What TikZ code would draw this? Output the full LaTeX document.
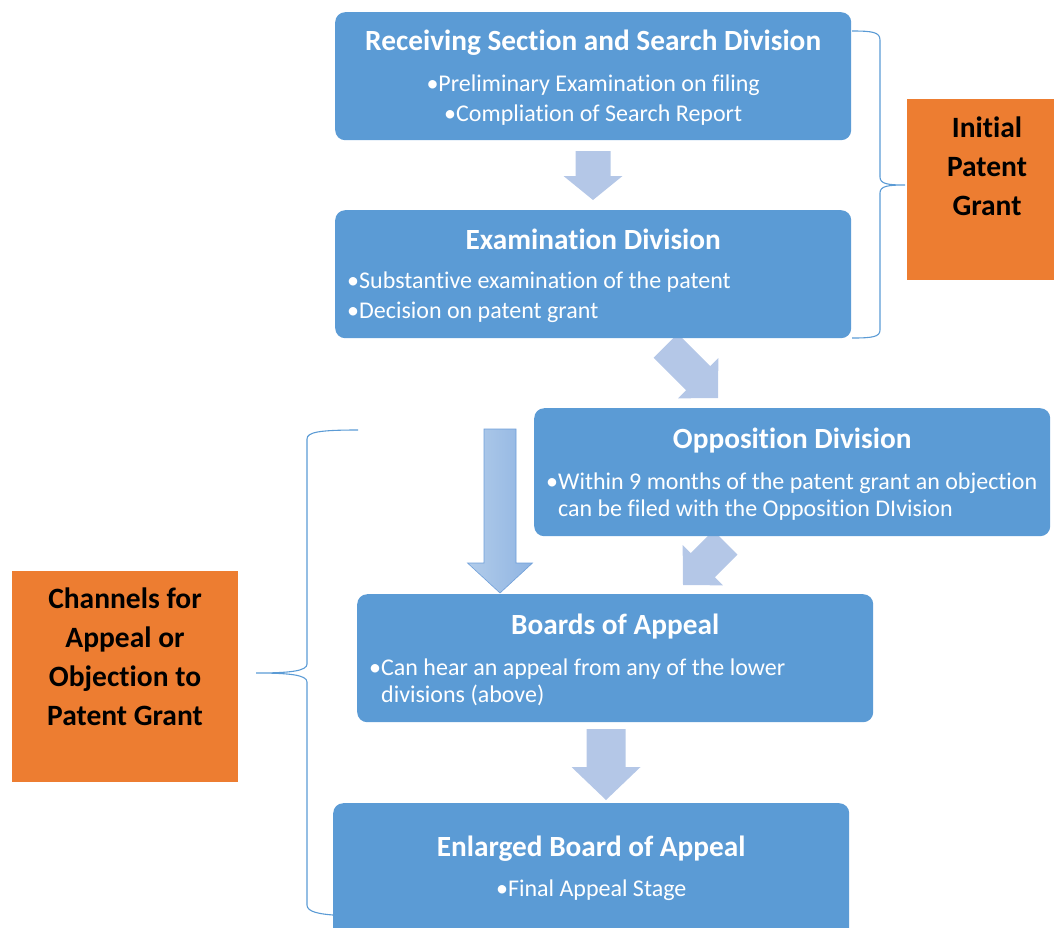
\documentclass[tikz,border=0pt]{standalone}
\usepackage{fontspec}
\setmainfont{Carlito}[Ligatures=NoCommon]
\usetikzlibrary{positioning}

\definecolor{boxblue}{HTML}{5B9BD5}
\definecolor{grantorange}{HTML}{ED7D31}
\definecolor{arrowblue}{HTML}{B4C7E7}
\definecolor{shaftlight}{HTML}{B2CCEA}
\definecolor{shaftdark}{HTML}{8FB4E2}
\definecolor{shaftline}{HTML}{6E9FD9}

\tikzset{
  stage/.style={fill=boxblue, rounded corners=10pt, minimum width=516pt,
    minimum height=128pt, inner sep=0pt},
  stagetitle/.style={text=white, inner sep=0pt,
    font=\bfseries\fontsize{29.3}{34}\selectfont},
  stagetext/.style={text=white, inner sep=0pt,
    font=\fontsize{24}{30}\selectfont},
  grantbox/.style={fill=grantorange, inner sep=0pt},
  granttext/.style={text=black, inner sep=0pt, align=center,
    font=\bfseries\fontsize{29.5}{39}\selectfont},
  bracket/.style={draw=boxblue, line width=1.1pt},
  blockarr/.style={fill=arrowblue, draw=none},
}

% block arrow: #1 tip, #2 angle, #3 length, #4 head length,
% #5 half shaft width, #6 half head width, #7 style
\newcommand{\blockarrow}[7]{%
  \begin{scope}[shift={#1}, rotate=#2]
    \path[#7] (0,0) -- (-#4,#6) -- (-#4,#5) -- (-#3,#5)
      -- (-#3,-#5) -- (-#4,-#5) -- (-#4,-#6) -- cycle;
  \end{scope}}

\begin{document}
\begin{tikzpicture}[x=1pt, y=-1pt]
\useasboundingbox (0,0) rectangle (1054,927);

% arrows first, boxes cover their ends
\blockarrow{(593,200)}{-90}{49}{24}{17.5}{29.5}{blockarr}
\blockarrow{(718,398)}{-45}{74}{28}{17}{28.5}{blockarr}
\blockarrow{(683,585)}{-135}{60}{28}{17}{28.5}{blockarr}
\blockarrow{(500,593)}{-90}{164}{30}{16}{32.5}{draw=shaftline,
  line width=0.6pt, left color=shaftlight, right color=shaftdark}
\blockarrow{(606,800)}{-90}{71}{33}{19.5}{34.5}{blockarr}

% stages
\node[stage, anchor=north west] (recv) at (335,12) {};
\node[stagetitle] (recvtitle) at ([yshift=-31pt]recv.north) {Receiving Section and Search Division};
\node[stagetext, align=center] (recvtext) at ([yshift=-88pt]recv.north)
  {•Preliminary Examination on filing\\•Compliation of Search Report};

\node[stage, anchor=north west] (exam) at (335,210) {};
\node[stagetitle] (examtitle) at ([yshift=-29pt]exam.north) {Examination Division};
\node[stagetext, align=left, anchor=west] (examtext) at ([xshift=12pt,yshift=-87pt]exam.north west)
  {•Substantive examination of the patent\\•Decision on patent grant};

\node[stage, anchor=north west] (oppo) at (534,408) {};
\node[stagetitle] (oppotitle) at ([yshift=-33pt]oppo.north) {Opposition Division};
\node[stagetext, align=left, anchor=west, font=\fontsize{24}{27}\selectfont] (oppotext)
  at ([xshift=12pt,yshift=-89pt]oppo.north west)
  {•Within 9 months of the patent grant an objection\\
   \hphantom{•}can be filed with the Opposition DIvision};

\node[stage, anchor=north west] (board) at (357,594) {};
\node[stagetitle] (boardtitle) at ([yshift=-33pt]board.north) {Boards of Appeal};
\node[stagetext, align=left, anchor=west, font=\fontsize{24}{27}\selectfont] (boardtext)
  at ([xshift=12pt,yshift=-88pt]board.north west)
  {•Can hear an appeal from any of the lower\\
   \hphantom{•}divisions (above)};

\node[stage, anchor=north west, minimum height=150pt] (enlarged) at (333,803) {};
\node[stagetitle] (enlargedtitle) at ([yshift=-46pt]enlarged.north) {Enlarged Board of Appeal};
\node[stagetext] (enlargedtext) at ([yshift=-87pt]enlarged.north) {•Final Appeal Stage};

% groups
\node[grantbox, anchor=north west, minimum width=150pt, minimum height=181pt] (initial) at (907,99) {};
\node[granttext] (initialtext) at (987,166) {Initial\\Patent\\Grant};
\node[grantbox, anchor=north west, minimum width=226pt, minimum height=211pt] (channels) at (12,571) {};
\node[granttext] (channelstext) at (125,657) {Channels for\\Appeal or\\Objection to\\Patent Grant};

% brackets
\draw[bracket] (852,31) .. controls (872,31) and (880,32) .. (880,40)
  -- (880,177) .. controls (880,184) and (888,185) .. (905,185)
  .. controls (888,185) and (880,186) .. (880,193)
  -- (880,330) .. controls (880,337) and (872,338) .. (852,338);
\draw[bracket] (358,430) .. controls (320,430) and (307,432) .. (307,439)
  -- (307,664) .. controls (307,671) and (290,673) .. (256,673)
  .. controls (290,673) and (307,675) .. (307,682)
  -- (307,905) .. controls (307,912) and (320,914) .. (333,915);
\end{tikzpicture}
\end{document}
